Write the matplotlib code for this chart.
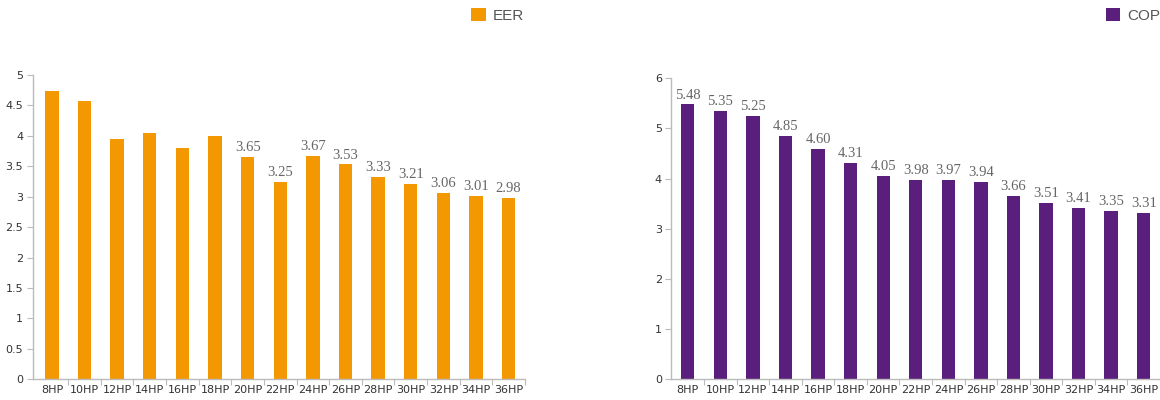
import matplotlib.pyplot as plt
from matplotlib.patches import Patch

# модели (л.с.)
models = ['8HP', '10HP', '12HP', '14HP', '16HP', '18HP', '20HP', '22HP',
          '24HP', '26HP', '28HP', '30HP', '32HP', '34HP', '36HP']

# EER (первые шесть столбцов без подписи на оригинале)
eer = [4.74, 4.57, 3.95, 4.04, 3.80, 3.99, 3.65, 3.25,
       3.67, 3.53, 3.33, 3.21, 3.06, 3.01, 2.98]
eer_show = [False] * 6 + [True] * 9

# COP
cop = [5.48, 5.35, 5.25, 4.85, 4.60, 4.31, 4.05, 3.98,
       3.97, 3.94, 3.66, 3.51, 3.41, 3.35, 3.31]
cop_show = [True] * 15

eer_ticks = [0, 0.5, 1, 1.5, 2, 2.5, 3, 3.5, 4, 4.5, 5]
eer_tick_labels = ['0', '0.5', '1', '1.5', '2', '2.5', '3', '3.5', '4', '4.5', '5']
cop_ticks = [0, 1, 2, 3, 4, 5, 6]

ORANGE = '#F39800'
PURPLE = '#5A1F7C'
AXIS = '#bbbbbb'
TXT = '#333333'

W, H = 1160, 400
fig = plt.figure(figsize=(W / 100, H / 100), dpi=100)


def draw_panel(rect, values, show, color, name, ticks, tick_labels, ymax, xlim, legend_right):
    ax = fig.add_axes(rect)
    x = range(len(models))
    bars = ax.bar(x, values, width=0.41, color=color, zorder=2)

    labels = [f'{v:.2f}' if s else '' for v, s in zip(values, show)]
    ax.bar_label(bars, labels=labels, padding=2, fontsize=10.5,
                 family='Liberation Serif', color='#666666')

    ax.set_ylim(0, ymax)
    ax.set_xlim(*xlim)
    ax.set_yticks(ticks)
    ax.set_yticklabels(tick_labels)

    # метки по оси X между категориями, подписи по центрам
    ax.set_xticks([i + 0.5 for i in range(len(models))])
    ax.set_xticks(list(x), minor=True)
    ax.set_xticklabels(models, minor=True)
    ax.tick_params(axis='x', which='major', length=4, color=AXIS, labelbottom=False)
    ax.tick_params(axis='x', which='minor', length=0, pad=4, labelsize=8, labelcolor=TXT)
    ax.tick_params(axis='y', length=4, color=AXIS, labelsize=8, labelcolor=TXT, pad=3)

    for side in ['top', 'right']:
        ax.spines[side].set_visible(False)
    for side in ['left', 'bottom']:
        ax.spines[side].set_color(AXIS)
        ax.spines[side].set_linewidth(1)

    handle = Patch(facecolor=color, edgecolor='none')
    fig.legend([handle], [name], loc='upper right',
               bbox_to_anchor=(legend_right / W, 1 - 8 / H),
               frameon=False, handlelength=0.95, handleheight=0.95,
               handletextpad=0.45, borderpad=0, borderaxespad=0,
               prop={'family': 'Liberation Sans', 'size': 11}, labelcolor='#555555')
    return ax


draw_panel([33 / W, 20.7 / H, 492 / W, 304.3 / H], eer, eer_show, ORANGE, 'EER',
           eer_ticks, eer_tick_labels, 5, (-0.58, 14.5), 524)
draw_panel([671.5 / W, 20.7 / H, 488.5 / W, 301 / H], cop, cop_show, PURPLE, 'COP',
           cop_ticks, [str(t) for t in cop_ticks], 6, (-0.5, 14.43), 1160)

fig.savefig('out.png', dpi=100, facecolor='white')
